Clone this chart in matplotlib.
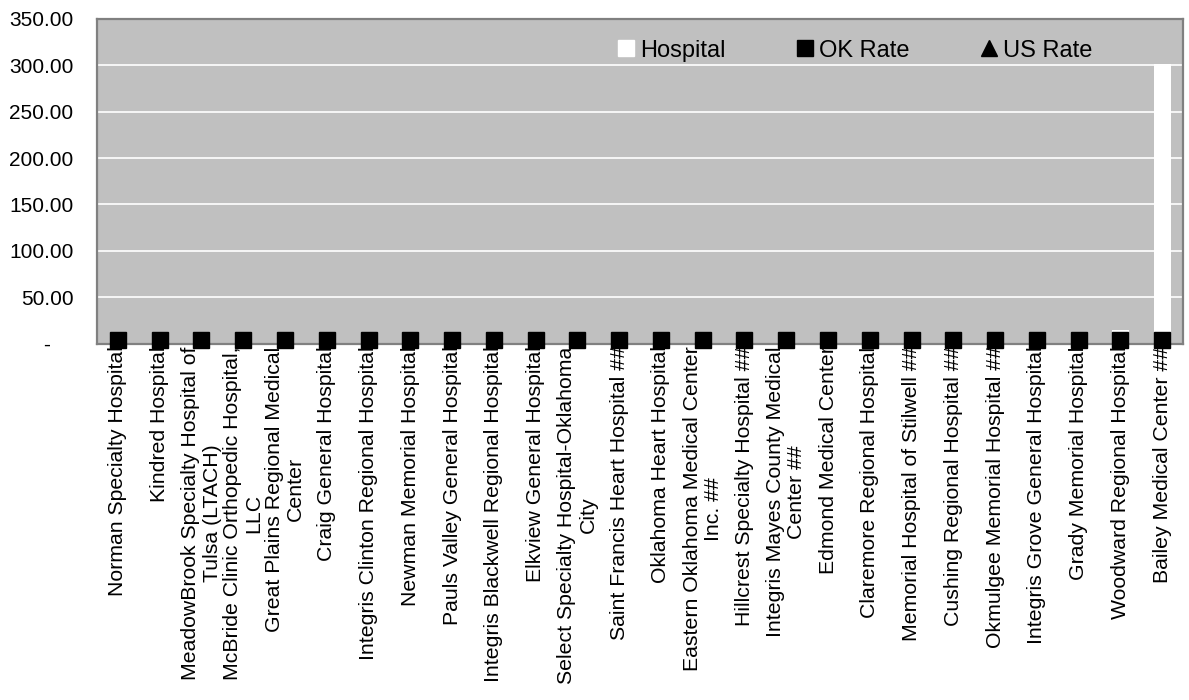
import matplotlib.pyplot as plt
from matplotlib.lines import Line2D
import numpy as np

plt.rcParams['font.family'] = ['Liberation Sans', 'DejaVu Sans']

hospitals = [
    "Norman Specialty Hospital",
    "Kindred Hospital",
    "MeadowBrook Specialty Hospital of\nTulsa (LTACH)",
    "McBride Clinic Orthopedic Hospital,\nLLC",
    "Great Plains Regional Medical\nCenter",
    "Craig General Hospital",
    "Integris Clinton Regional Hospital",
    "Newman Memorial Hospital",
    "Pauls Valley General Hospital",
    "Integris Blackwell Regional Hospital",
    "Elkview General Hospital",
    "Select Specialty Hospital-Oklahoma\nCity",
    "Saint Francis Heart Hospital ##",
    "Oklahoma Heart Hospital",
    "Eastern Oklahoma Medical Center\nInc. ##",
    "Hillcrest Specialty Hospital ##",
    "Integris Mayes County Medical\nCenter ##",
    "Edmond Medical Center",
    "Claremore Regional Hospital",
    "Memorial Hospital of Stilwell ##",
    "Cushing Regional Hospital ##",
    "Okmulgee Memorial Hospital ##",
    "Integris Grove General Hospital",
    "Grady Memorial Hospital",
    "Woodward Regional Hospital",
    "Bailey Medical Center ##",
]
hospital_rate = [0, 0, 0, 0, 0, 0, 0, 0, 0, 0, 0, 0, 0,
                 0, 0, 0, 0, 0, 0, 0, 0, 0, 0, 0, 14.5, 301.0]
ok_rate = [4.4] * 26
us_rate = [4.0] * 26

x = np.arange(len(hospitals))

fig = plt.figure(figsize=(11.89, 7), dpi=100)
ax = fig.add_axes([0.0816, 0.509, 0.9134, 0.464])
ax.set_facecolor('#C0C0C0')

ax.bar(x, hospital_rate, width=0.41, color='white', zorder=2)
ax.plot(x, us_rate, linestyle='none', marker='^', color='black', markersize=9, zorder=3, clip_on=False)
ax.plot(x, ok_rate, linestyle='none', marker='s', color='black', markersize=11, zorder=4, clip_on=False)

ax.set_xlim(-0.5, len(hospitals) - 0.5)
ax.set_ylim(0, 350)
yticks = np.arange(0, 351, 50)
ax.set_yticks(yticks)
ax.set_yticklabels(["-    "] + ["%.2f" % v for v in yticks[1:]], fontsize=15)
ax.set_xticks(x)
ax.set_xticklabels(hospitals, rotation=90, fontsize=15.3, ha='center', va='top',
                   multialignment='center', linespacing=1.15)
ax.tick_params(axis='y', length=0, pad=17)
ax.tick_params(axis='x', length=0, pad=2)

ax.grid(axis='y', color='white', linewidth=1.2, zorder=1)
ax.set_axisbelow(True)
for s in ax.spines.values():
    s.set_color('#808080')
    s.set_linewidth(1.6)

handles = [
    Line2D([], [], linestyle='none', marker='s', color='white', markersize=11),
    Line2D([], [], linestyle='none', marker='s', color='black', markersize=11),
    Line2D([], [], linestyle='none', marker='^', color='black', markersize=11),
]
ax.legend(handles, ["Hospital", "OK Rate", "US Rate"], loc='center', bbox_to_anchor=(0.698, 0.902),
          ncol=3, frameon=False, fontsize=17, handlelength=0.7, handletextpad=0.25, columnspacing=3.0)

plt.savefig('out.png', dpi=100)
